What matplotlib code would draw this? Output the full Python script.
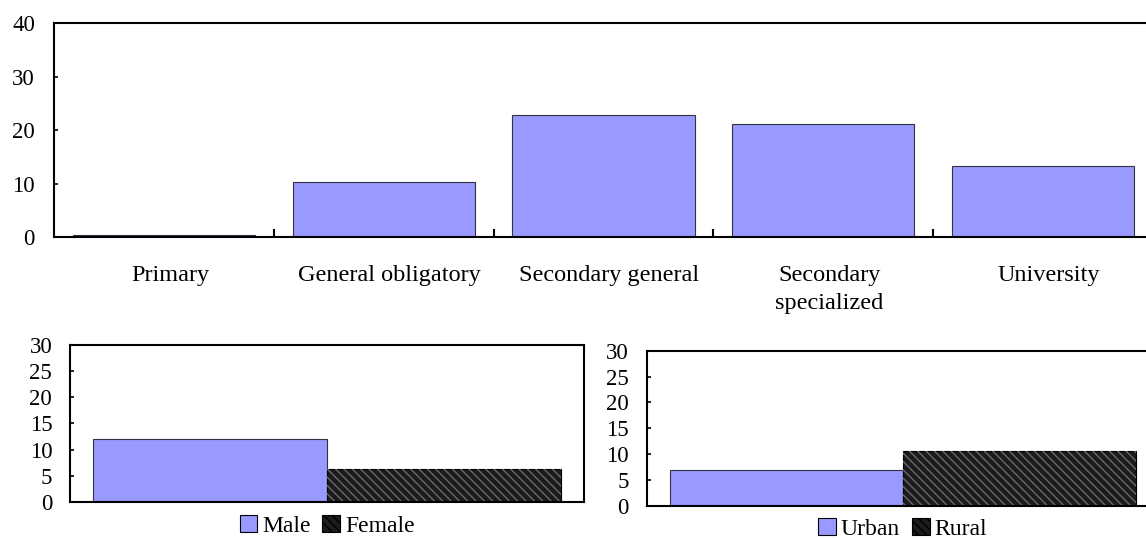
import matplotlib
matplotlib.use("Agg")
import matplotlib.pyplot as plt
from matplotlib.patches import Patch
from matplotlib.ticker import FixedLocator
from matplotlib.transforms import ScaledTranslation

plt.rcParams["font.family"] = ["Liberation Serif", "DejaVu Serif"]
plt.rcParams["hatch.linewidth"] = 1.0

# data
levels = ["Primary", "General obligatory", "Secondary general", "Secondary\nspecialized", "University"]
level_vals = [0.45, 10.2, 22.8, 21.2, 13.3]

sex_labels = ["Male", "Female"]
sex_vals = [12.1, 6.3]

area_labels = ["Urban", "Rural"]
area_vals = [7.0, 10.5]

BLUE = "#9999FF"
DARK = "#1c1c1c"
HATCH_COL = "#6a6a6a"

fig = plt.figure(figsize=(11.46, 5.38), dpi=100)


def style_axes(ax, pad):
    for s in ax.spines.values():
        s.set_linewidth(1.5)
        s.set_color("black")
    ax.tick_params(axis="y", direction="in", length=3, width=1.2, labelsize=16.5, pad=pad)


# top chart: education level
ax = fig.add_axes([0.0474, 0.5595, 0.9585, 0.3972])
x = list(range(len(levels)))
ax.bar(x, level_vals, width=0.83, color=BLUE, edgecolor="#333344", linewidth=0.8)
ax.set_xlim(-0.5, len(levels) - 0.5)
ax.set_ylim(0, 40)
ax.set_yticks([0, 10, 20, 30, 40])
ax.set_xticks(x)
ax.set_xticklabels(levels, fontsize=17.5, linespacing=1.45)
ax.xaxis.set_minor_locator(FixedLocator([i + 0.5 for i in x[:-1]]))
ax.tick_params(axis="x", which="major", length=0, pad=20)
ax.tick_params(axis="x", which="minor", direction="in", length=6, width=1.5)
style_axes(ax, 14)
# labels sit a little right of the category centre in the original
shift = ScaledTranslation(6 / 100, 0, fig.dpi_scale_trans)
for lab in ax.get_xticklabels():
    lab.set_transform(lab.get_transform() + shift)


def pair_chart(rect, labels, vals):
    a = fig.add_axes(rect)
    pos = [-0.25, 0.25]
    a.bar(pos[0], vals[0], width=0.5, color=BLUE, edgecolor="#333344", linewidth=0.8)
    a.bar(pos[1], vals[1], width=0.5, color=DARK, edgecolor="black", linewidth=0.8)
    a.bar(pos[1], vals[1], width=0.5, color="none", edgecolor=HATCH_COL,
          linewidth=0, hatch="\\\\\\\\")
    a.set_xlim(-0.549, 0.549)
    a.set_ylim(0, 30)
    a.set_yticks([0, 5, 10, 15, 20, 25, 30])
    a.set_xticks([])
    style_axes(a, 13)
    handles = [Patch(facecolor=BLUE, edgecolor="black", linewidth=0.8),
               Patch(facecolor=DARK, edgecolor="black", hatch="\\\\\\\\", linewidth=0.8)]
    a.legend(handles, labels, loc="center", bbox_to_anchor=(0.5, -0.15), ncol=2,
             frameon=False, fontsize=17, handlelength=0.75, handleheight=0.75,
             handletextpad=0.2, columnspacing=0.5, borderpad=0)
    return a


pair_chart([0.0613, 0.0664, 0.4483, 0.2929], sex_labels, sex_vals)
pair_chart([0.5644, 0.0600, 0.4466, 0.2881], area_labels, area_vals)

fig.savefig("out.png", dpi=100)
